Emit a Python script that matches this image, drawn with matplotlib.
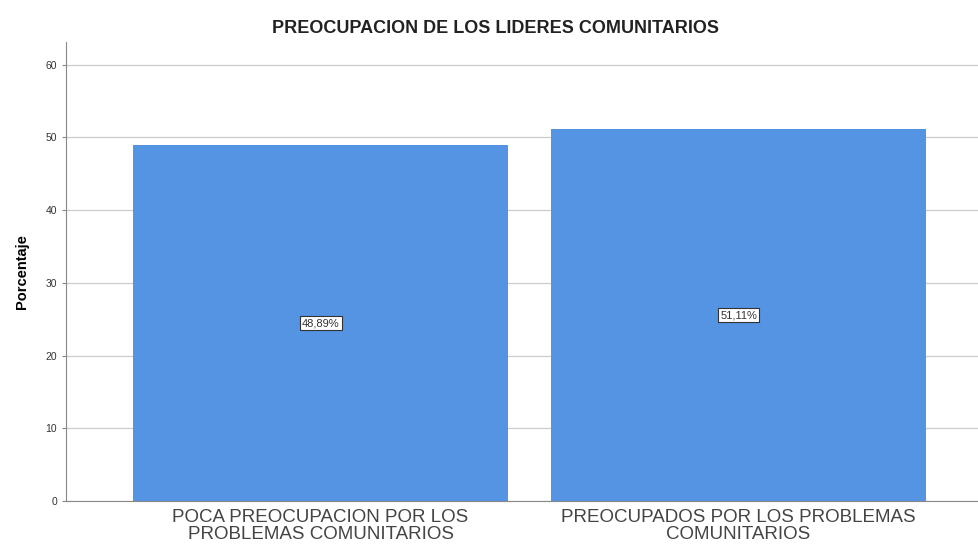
import numpy as np
import matplotlib.pyplot as plt

plt.rcParams['font.family'] = ['Liberation Sans', 'DejaVu Sans']

# datos
categorias = ['POCA PREOCUPACION POR LOS\nPROBLEMAS COMUNITARIOS',
              'PREOCUPADOS POR LOS PROBLEMAS\nCOMUNITARIOS']
porcentajes = [48.89, 51.11]
etiquetas = ['48,89%', '51,11%']

fig = plt.figure(figsize=(9.79, 5.46), dpi=100)
ax = fig.add_axes([0.0674, 0.0824, 0.9326, 0.8406])

x = np.arange(len(categorias))
bars = ax.bar(x, porcentajes, width=0.897, color='#5593e3', zorder=2)

for b, txt in zip(bars, etiquetas):
    ax.text(b.get_x() + b.get_width() / 2, b.get_height() / 2, txt,
            ha='center', va='center', fontsize=8, color='#333333', zorder=3,
            bbox=dict(boxstyle='square,pad=0.2', fc='white', ec='#333333', lw=0.8))

ax.set_xlim(-0.609, 1.575)
ax.set_ylim(0, 63.1)
ax.set_yticks(np.arange(0, 61, 10))
ax.tick_params(axis='y', labelsize=7.5, labelcolor='#333333', length=3, color='#888888')
ax.set_xticks(x)
ax.set_xticklabels(categorias, fontsize=13.5, color='#444444', linespacing=0.95)
ax.tick_params(axis='x', length=0, pad=6)
ax.grid(axis='y', color='#cccccc', lw=0.9, zorder=0)

for s in ['top', 'right']:
    ax.spines[s].set_visible(False)
ax.spines['left'].set_color('#888888')
ax.spines['bottom'].set_color('#888888')

ax.set_ylabel('Porcentaje', fontsize=10.5, fontweight='bold', labelpad=12)
fig.text(0.506, 0.948, 'PREOCUPACION DE LOS LIDERES COMUNITARIOS',
         ha='center', va='center', fontsize=13, fontweight='bold', color='#222222')

plt.savefig('out.png', dpi=100)
